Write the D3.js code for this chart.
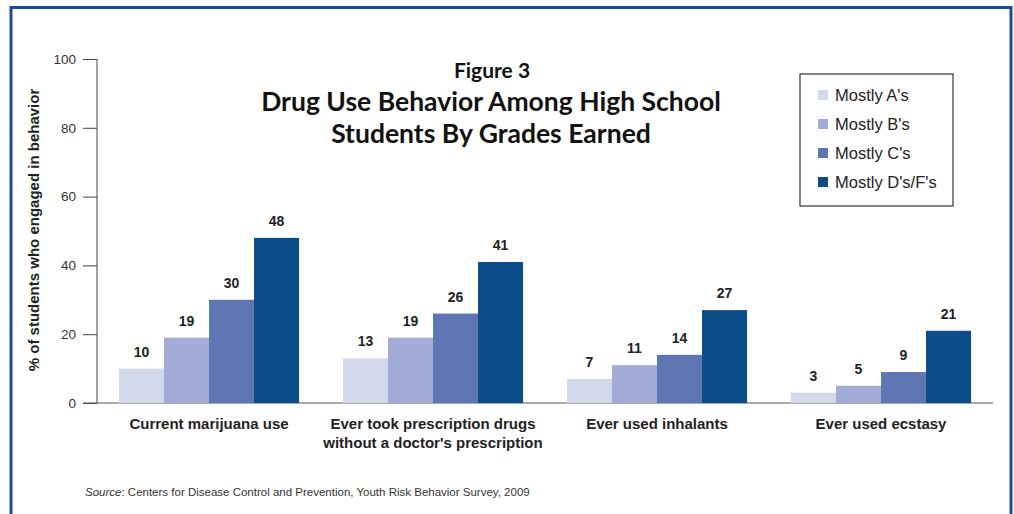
<!DOCTYPE html>
<html lang="en">
<head>
  <meta charset="UTF-8">
  <title>Figure 3 - Drug Use Behavior</title>
  <style>
    body { margin: 0; background: #fff; overflow: hidden; }
    svg { display: block; font-family: 'Liberation Sans', Arial, sans-serif; }
    .tick text { fill: #333; font-size: 13.5px; }
  </style>
</head>
<body>
  <svg id="chart" width="1014" height="514"></svg>

  <script src="https://d3js.org/d3.v7.min.js"></script>
  <script>
    // data
    const categories = [
      ['Current marijuana use'],
      ['Ever took prescription drugs', "without a doctor's prescription"],
      ['Ever used inhalants'],
      ['Ever used ecstasy']
    ];
    const groups = ["Mostly A's", "Mostly B's", "Mostly C's", "Mostly D's/F's"];
    const mostlyA = [10, 13, 7, 3];
    const mostlyB = [19, 19, 11, 5];
    const mostlyC = [30, 26, 14, 9];
    const mostlyDF = [48, 41, 27, 21];
    const yTicks = [0, 20, 40, 60, 80, 100];
    const colors = ['#d3d8ea', '#a2acd6', '#5e76b2', '#0c4c88'];

    (function () {
      const series = [mostlyA, mostlyB, mostlyC, mostlyDF];
      const svg = d3.select('#chart');

      // outer frame
      svg.append('rect')
        .attr('x', 11).attr('y', 7.5).attr('width', 1000).attr('height', 540)
        .attr('fill', 'none').attr('stroke', '#1e4c9c').attr('stroke-width', 3);

      const mLeft = 97, mRight = 993, mTop = 59, mBottom = 403;

      const x0 = d3.scaleBand().domain(d3.range(categories.length)).range([mLeft, mRight])
        .paddingInner(0.196).paddingOuter(0.098);
      const x1 = d3.scaleBand().domain(d3.range(groups.length)).range([0, x0.bandwidth()]);
      const y = d3.scaleLinear().domain([0, 100]).range([mBottom, mTop]);

      // y axis
      const yAxis = svg.append('g')
        .attr('transform', `translate(${mLeft},0)`)
        .call(d3.axisLeft(y).tickValues(yTicks).tickSize(14).tickPadding(7));
      yAxis.select('.domain').attr('stroke', '#444').attr('d', `M0,${mTop}H0V${mBottom}`);
      yAxis.selectAll('.tick line').attr('stroke', '#444');

      // baseline
      svg.append('line')
        .attr('x1', mLeft - 14).attr('x2', mRight).attr('y1', mBottom).attr('y2', mBottom)
        .attr('stroke', '#555').attr('stroke-width', 1);

      // bars
      const grp = svg.append('g').selectAll('g')
        .data(categories).join('g')
        .attr('transform', (d, i) => `translate(${x0(i)},0)`);

      grp.selectAll('rect')
        .data((d, i) => series.map((s, k) => ({ k, v: s[i] })))
        .join('rect')
        .attr('x', d => x1(d.k))
        .attr('width', x1.bandwidth())
        .attr('y', d => y(d.v))
        .attr('height', d => y(0) - y(d.v))
        .attr('fill', d => colors[d.k]);

      grp.selectAll('text.val')
        .data((d, i) => series.map((s, k) => ({ k, v: s[i] })))
        .join('text')
        .attr('class', 'val')
        .attr('x', d => x1(d.k) + x1.bandwidth() / 2)
        .attr('y', d => y(d.v) - 12)
        .attr('text-anchor', 'middle')
        .attr('font-size', 14).attr('font-weight', 'bold').attr('fill', '#222')
        .text(d => d.v);

      // category labels
      const catLab = svg.append('g').selectAll('text')
        .data(categories).join('text')
        .attr('x', (d, i) => x0(i) + x0.bandwidth() / 2)
        .attr('y', 429)
        .attr('text-anchor', 'middle')
        .attr('font-size', 15).attr('font-weight', 'bold').attr('fill', '#222');
      catLab.selectAll('tspan')
        .data(d => d).join('tspan')
        .attr('x', function () { return this.parentNode.getAttribute('x'); })
        .attr('dy', (d, j) => j === 0 ? 0 : 19)
        .text(d => d);

      // y axis title
      svg.append('text')
        .attr('transform', 'translate(39,230) rotate(-90)')
        .attr('text-anchor', 'middle')
        .attr('font-size', 15).attr('font-weight', 'bold').attr('fill', '#222')
        .text('% of students who engaged in behavior');

      // title
      const title = svg.append('g').attr('font-family', 'Lato, sans-serif')
        .attr('font-weight', 'bold').attr('text-anchor', 'middle').attr('fill', '#111');
      title.append('text').attr('x', 492).attr('y', 78).attr('font-size', 21).text('Figure 3');
      title.append('text').attr('x', 491).attr('y', 111).attr('font-size', 26.5)
        .text('Drug Use Behavior Among High School');
      title.append('text').attr('x', 491).attr('y', 143).attr('font-size', 26.5)
        .text('Students By Grades Earned');

      // legend
      const lg = svg.append('g').attr('transform', 'translate(800,74)');
      lg.append('rect').attr('width', 153).attr('height', 132)
        .attr('fill', '#fff').attr('stroke', '#333').attr('stroke-width', 1.2);
      const item = lg.selectAll('g').data(groups).join('g')
        .attr('transform', (d, i) => `translate(18,${21 + i * 29})`);
      item.append('rect').attr('y', -5).attr('width', 10).attr('height', 10)
        .attr('fill', (d, i) => colors[i]);
      item.append('text').attr('x', 17).attr('y', 6)
        .attr('font-size', 16.5).attr('fill', '#222').text(d => d);

      // source
      const src = svg.append('text').attr('x', 85).attr('y', 496)
        .attr('font-size', 11.5).attr('fill', '#333');
      src.append('tspan').attr('font-style', 'italic').text('Source');
      src.append('tspan').text(': Centers for Disease Control and Prevention, Youth Risk Behavior Survey, 2009');
    })();
  </script>
</body>
</html>
